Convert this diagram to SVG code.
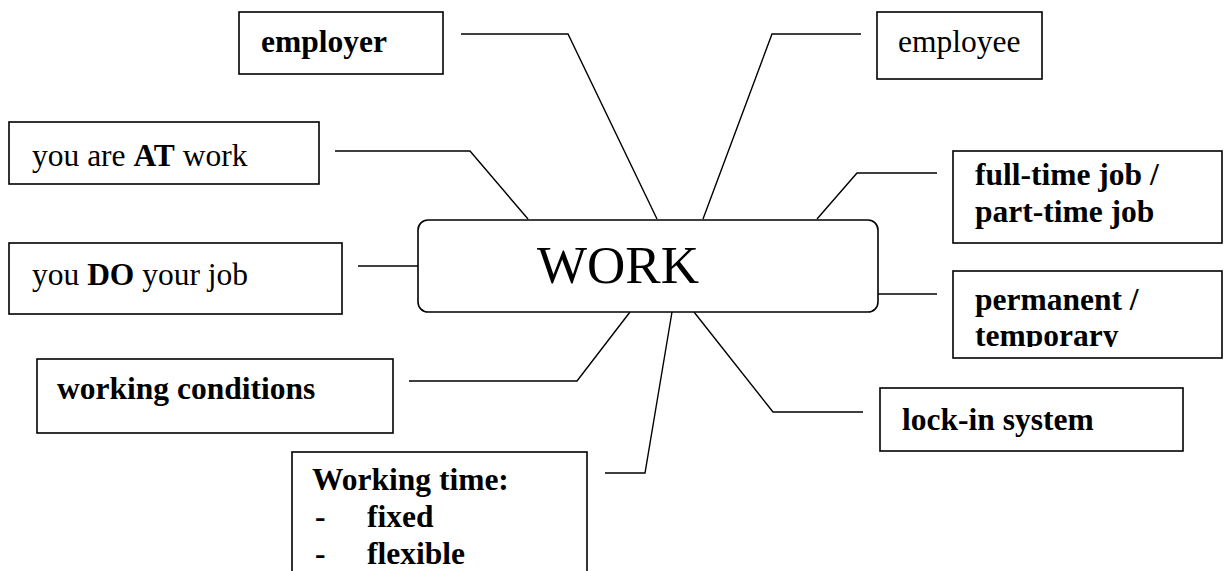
<svg xmlns="http://www.w3.org/2000/svg" width="1224" height="571" viewBox="0 0 1224 571">
  <style>
    .box { fill: #ffffff; stroke: #000000; stroke-width: 1.6; }
    .conn { fill: none; stroke: #000000; stroke-width: 1.4; }
    .t { font-family: "Liberation Serif", "Times New Roman", serif; font-size: 31.5px; fill: #000000; }
    .b { font-weight: bold; }
    .big { font-family: "Liberation Serif", "Times New Roman", serif; font-size: 53px; fill: #000000; }
  </style>
  <defs>
    <clipPath id="clipPerm"><rect x="953" y="271" width="271" height="76"/></clipPath>
  </defs>
  <rect x="0" y="0" width="1224" height="571" fill="#ffffff"/>

  <g id="connectors">
    <polyline class="conn" points="461,34 568,34 657,219"/>
    <polyline class="conn" points="861,34 772,34 703,219"/>
    <polyline class="conn" points="335,151 470,151 528,219"/>
    <polyline class="conn" points="937,173 857,173 817,219"/>
    <polyline class="conn" points="358,266 418,266"/>
    <polyline class="conn" points="878,294 937,294"/>
    <polyline class="conn" points="409,381 577,381 630,312"/>
    <polyline class="conn" points="605,473 645,473 672,312"/>
    <polyline class="conn" points="694,312 773,412 863,412"/>
  </g>

  <g id="work">
    <rect class="box" x="418" y="220" width="460" height="92" rx="10" ry="10"/>
    <text class="big" x="537" y="283">WORK</text>
  </g>

  <g id="employer">
    <rect class="box" x="239" y="12" width="204" height="62"/>
    <text class="t b" x="261" y="52">employer</text>
  </g>

  <g id="employee">
    <rect class="box" x="877" y="12" width="165" height="67"/>
    <text class="t" x="898" y="52">employee</text>
  </g>

  <g id="at-work">
    <rect class="box" x="9" y="122" width="310" height="62"/>
    <text class="t" x="32" y="166">you are <tspan class="b">AT</tspan> work</text>
  </g>

  <g id="do-job">
    <rect class="box" x="9" y="243" width="333" height="71"/>
    <text class="t" x="32" y="285">you <tspan class="b">DO</tspan> your job</text>
  </g>

  <g id="full-time">
    <rect class="box" x="953" y="151" width="269" height="92"/>
    <text class="t b" x="975" y="185">full-time job /</text>
    <text class="t b" x="975" y="222">part-time job</text>
  </g>

  <g id="permanent">
    <rect class="box" x="953" y="271" width="269" height="87"/>
    <g clip-path="url(#clipPerm)">
      <text class="t b" x="975" y="310">permanent /</text>
      <text class="t b" x="975" y="346">temporary</text>
    </g>
  </g>

  <g id="working-conditions">
    <rect class="box" x="37" y="359" width="356" height="74"/>
    <text class="t b" x="57" y="399">working conditions</text>
  </g>

  <g id="lock-in">
    <rect class="box" x="880" y="388" width="303" height="63"/>
    <text class="t b" x="902" y="430">lock-in system</text>
  </g>

  <g id="working-time">
    <rect class="box" x="292" y="452" width="295" height="130"/>
    <text class="t b" x="312" y="490">Working time:</text>
    <text class="t b" x="315" y="527">-</text>
    <text class="t b" x="367" y="527">fixed</text>
    <text class="t b" x="315" y="564">-</text>
    <text class="t b" x="367" y="564">flexible</text>
  </g>
</svg>
